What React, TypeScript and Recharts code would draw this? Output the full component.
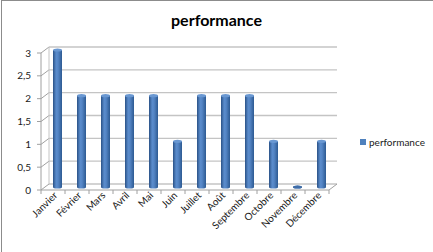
import { Bar, BarChart, CartesianGrid, XAxis, YAxis } from "recharts";

const months = ["Janvier", "Février", "Mars", "Avril", "Mai", "Juin", "Juillet", "Août", "Septembre", "Octobre", "Novembre", "Décembre"];
const performance = [3, 2, 2, 2, 2, 1, 2, 2, 2, 1, 0, 1];
const yTicks = [0, 0.5, 1, 1.5, 2, 2.5, 3];
const seriesName = "performance";
const title = "performance";

const data = months.map((month, i) => ({ month, performance: performance[i] }));

const W = 433;
const H = 252;
const LEFT = 45;
const TOP = 50;
const PLOT_W = 288;
const PLOT_H = 137;
const XAXIS_H = 30;
const DX = 4; // half depth of the fake 3d box
const DY = 3;
const BAND = PLOT_W / months.length;
const FRAME = "#a0a0a0";
const GRID = "#c4c4c4";
const FONT = "Lato, 'Open Sans', sans-serif";

const Cylinder = (props: any) => {
    const { x, y, width, height } = props;
    const rx = width / 2;
    const cx = x + rx;
    return (
        <g>
            {height > 0 && <rect x={x} y={y} width={width} height={height} fill="url(#cyl)" />}
            <ellipse cx={cx} cy={y + height} rx={rx} ry={1.6} fill="url(#cyl)" />
            <ellipse cx={cx} cy={y} rx={rx} ry={1.6} fill={height > 0 ? "#6a98d2" : "#3f6da8"} />
        </g>
    );
};

const YTick = (props: any) => {
    const { x, y, payload } = props;
    const fy = y + DY;
    const fx = x - DX;
    return (
        <g>
            <line x1={fx - 4} y1={fy} x2={fx} y2={fy} stroke={FRAME} />
            <text x={fx - 10} y={fy + 3.5} textAnchor="end" fontSize={10} fontFamily={FONT} fill="#1a1a1a">
                {String(payload.value).replace(".", ",")}
            </text>
        </g>
    );
};

const XTick = (props: any) => {
    const { x, y, payload, index } = props;
    const fy = y + DY;
    const left = x - BAND / 2 - DX;
    const right = x + BAND / 2 - DX;
    const tx = x - DX + 5;
    const ty = fy + 6;
    return (
        <g>
            <line x1={left} y1={fy} x2={left} y2={fy + 4} stroke={FRAME} />
            {index === months.length - 1 && <line x1={right} y1={fy} x2={right} y2={fy + 4} stroke={FRAME} />}
            <text
                x={tx}
                y={ty}
                textAnchor="end"
                fontSize={10}
                fontFamily={FONT}
                fill="#1a1a1a"
                transform={`rotate(-45 ${tx} ${ty})`}
            >
                {payload.value}
            </text>
        </g>
    );
};

const hLine = (props: any) => {
    const { x1, x2, y1, index } = props;
    const isFloor = Math.abs(y1 - (TOP + PLOT_H)) < 0.5;
    return (
        <g key={`h-${index}`}>
            <line x1={x1 + DX} y1={y1 - DY} x2={x2 + DX} y2={y1 - DY} stroke={GRID} strokeWidth={1.3} />
            <line x1={x1 - DX} y1={y1 + DY} x2={x1 + DX} y2={y1 - DY} stroke={FRAME} />
            {isFloor && (
                <g>
                    <line x1={x1 - DX} y1={y1 + DY} x2={x2 - DX} y2={y1 + DY} stroke={FRAME} />
                    <line x1={x2 - DX} y1={y1 + DY} x2={x2 + DX} y2={y1 - DY} stroke={FRAME} />
                </g>
            )}
        </g>
    );
};

const vLine = (props: any) => {
    const { x1, y1, y2, index } = props;
    return (
        <g key={`v-${index}`}>
            <line x1={x1 + DX} y1={y1 - DY} x2={x1 + DX} y2={y2 - DY} stroke={GRID} />
            <line x1={x1 - DX} y1={y1 + DY} x2={x1 - DX} y2={y2 + DY} stroke={FRAME} />
        </g>
    );
};

const App = () => {
    return (
        <div style={{ position: "absolute", left: 0, top: 0, width: W, height: H, background: "#fff" }}>
            <div style={{ position: "absolute", left: 1, top: 0, width: W - 1, height: 1, background: "#8c8c8c" }} />
            <div style={{ position: "absolute", left: 1, top: 0, width: 1, height: H, background: "#8c8c8c" }} />
            <BarChart
                width={W}
                height={H}
                data={data}
                margin={{ top: TOP, right: W - LEFT - PLOT_W, bottom: H - TOP - PLOT_H - XAXIS_H, left: 0 }}
                barSize={9}
            >
                <CartesianGrid
                    horizontal={hLine}
                    vertical={vLine}
                    verticalCoordinatesGenerator={({ offset }: any) => [offset.left]}
                />
                <XAxis
                    dataKey="month"
                    height={XAXIS_H}
                    axisLine={false}
                    tickLine={false}
                    tickSize={0}
                    tickMargin={0}
                    interval={0}
                    tick={<XTick />}
                />
                <YAxis
                    width={LEFT}
                    domain={[0, 3]}
                    ticks={yTicks}
                    interval={0}
                    axisLine={false}
                    tickLine={false}
                    tickSize={0}
                    tickMargin={0}
                    tick={<YTick />}
                />
                <Bar dataKey="performance" name={seriesName} shape={<Cylinder />} isAnimationActive={false} />
            </BarChart>
            <svg width={W} height={H} style={{ position: "absolute", left: 0, top: 0, pointerEvents: "none" }}>
                <defs>
                    <linearGradient id="cyl" x1="0" y1="0" x2="1" y2="0">
                        <stop offset="0%" stopColor="#2a5186" />
                        <stop offset="35%" stopColor="#5a8ccc" />
                        <stop offset="55%" stopColor="#5586c6" />
                        <stop offset="100%" stopColor="#2d5a92" />
                    </linearGradient>
                </defs>
                <text x={216.5} y={26} textAnchor="middle" fontSize={16} fontWeight="bold" fontFamily={FONT} fill="#000">
                    {title}
                </text>
                <rect x={360} y={139} width={6} height={6} fill="#4f81bd" />
                <text x={369} y={145.5} fontSize={10} fontFamily={FONT} fill="#1a1a1a">
                    {seriesName}
                </text>
            </svg>
        </div>
    );
};

export default App;
